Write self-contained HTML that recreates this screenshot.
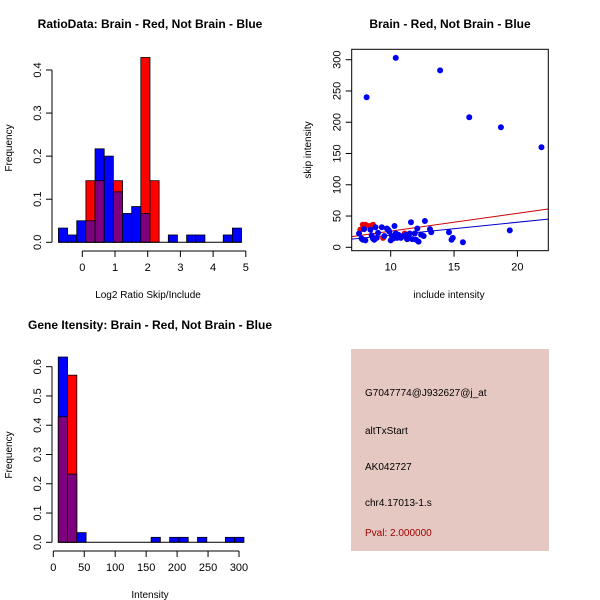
<!DOCTYPE html>
<html><head><meta charset="utf-8"><style>
html,body{margin:0;padding:0;background:#fff;}
svg{display:block;font-family:"Liberation Sans",sans-serif;}
</style></head><body>
<svg id="c" width="600" height="600" xmlns="http://www.w3.org/2000/svg">
<rect width="600" height="600" fill="#fff"/>
<text x="150" y="28" font-size="12" font-weight="bold" text-anchor="middle">RatioData: Brain - Red, Not Brain - Blue</text>
<text x="148" y="298" font-size="10" text-anchor="middle">Log2 Ratio Skip/Include</text>
<text transform="translate(12,148) rotate(-90)" font-size="10" text-anchor="middle">Frequency</text>
<text x="450" y="28" font-size="12" font-weight="bold" text-anchor="middle">Brain - Red, Not Brain - Blue</text>
<text x="449" y="298" font-size="10" text-anchor="middle">include intensity</text>
<text transform="translate(311,150) rotate(-90)" font-size="10" text-anchor="middle">skip intensity</text>
<text x="150" y="329" font-size="12" font-weight="bold" text-anchor="middle">Gene Itensity: Brain - Red, Not Brain - Blue</text>
<text x="150" y="598" font-size="10" text-anchor="middle">Intensity</text>
<text transform="translate(12,455) rotate(-90)" font-size="10" text-anchor="middle">Frequency</text>
<rect x="351" y="349" width="198" height="202" fill="#E6C8C2"/>
<text x="365" y="396" font-size="10">G7047774@J932627@j_at</text>
<text x="365" y="434" font-size="10">altTxStart</text>
<text x="365" y="470" font-size="10">AK042727</text>
<text x="365" y="506" font-size="10">chr4.17013-1.s</text>
<text x="365" y="536" font-size="10" fill="#A00000">Pval: 2.000000</text>
</svg>
<script>
const NS="http://www.w3.org/2000/svg";
const svg=document.getElementById('c');
function mk(t,a,p){const e=document.createElementNS(NS,t);for(const k in a)e.setAttribute(k,a[k]);(p||svg).appendChild(e);return e;}

// ---- Chart 1 data ----
const ratioBinStart=-0.73, ratioBinWidth=0.28;
const ratioBlue=[0.033,0.017,0.05,0.05,0.217,0.2,0.117,0.067,0.083,0.067,0,0,0.017,0,0.017,0.017,0,0,0.017,0.033];
const ratioRed=[0,0,0,0.143,0.143,0,0.143,0,0,0.429,0.143,0,0,0,0,0,0,0,0,0];
const ratioXTicks=[0,1,2,3,4,5];
const ratioYTicks=[0,0.1,0.2,0.3,0.4];

// ---- Chart 3 data ----
const intBinStart=8, intBinWidth=15;
const intBlue=[0.633,0.233,0.033,0,0,0,0,0,0,0,0.017,0,0.017,0.017,0,0.017,0,0,0.017,0.017];
const intRed=[0.429,0.571,0,0,0,0,0,0,0,0,0,0,0,0,0,0,0,0,0,0];
const intXTicks=[0,50,100,150,200,250,300];
const intYTicks=[0,0.1,0.2,0.3,0.4,0.5,0.6];

// ---- Chart 2 data ----
const blueX=[8.1,10.4,13.9,16.2,18.7,21.9,19.4,15.7,14.6,14.8,14.9,12.7,11.6,10.3,13.1,13.2,12.1,7.5,7.7,7.8,7.9,8.0,8.4,8.6,8.7,8.8,9.0,9.3,9.5,9.7,9.9,10.0,10.1,10.2,10.4,10.5,10.6,10.7,10.8,11.0,11.2,11.4,11.5,11.7,11.9,12.0,12.2,12.4,12.6,8.5,8.9,9.8,10.9,11.3];
const blueY=[240,303,283,208,192,160,27,8,24,12,15,42,40,34,29,24,30,22,14,12,29,11,28,14,12,32,23,32,18,30,25,11,18,14,22,15,20,18,15,18,20,16,22,13,22,12,9,20,18,19,15,28,17,13];
const redX=[7.8,8.0,8.3,8.6,7.6,9.4,11.1,11.3];
const redY=[36,36,34,36,28,15,22,13];
const redFit=[-2.7,2.85];
const blueFit=[-1.3,2.07];
const scXTicks=[10,15,20];
const scYTicks=[0,50,100,150,200,250,300];

function hist(g,name,x0px,xScale,binStart,binW,blue,red,y0,yScale){
  for(let i=0;i<blue.length;i++){
    const xa=xScale(binStart+i*binW), xb=xScale(binStart+(i+1)*binW);
    const b=blue[i], r=red[i];
    const hi=Math.max(b,r), lo=Math.min(b,r);
    if(hi>0){
      const e=mk('rect',{x:xa,y:yScale(hi),width:xb-xa,height:y0-yScale(hi),fill:b>=r?'#0000FF':'#FF0000',stroke:'#000','stroke-width':0.8},g);
      
      
    }
    if(lo>0){
      const e=mk('rect',{x:xa,y:yScale(lo),width:xb-xa,height:y0-yScale(lo),fill:'#7F007F',stroke:'#000','stroke-width':0.8},g);
      
      
    }
  }
}
function axes(xt,xs,xy,yt,ys,yx,fmtY){
  mk('line',{x1:xs(xt[0]),x2:xs(xt[xt.length-1]),y1:xy,y2:xy,stroke:'#000'});
  xt.forEach(v=>{mk('line',{x1:xs(v),x2:xs(v),y1:xy,y2:xy+6,stroke:'#000'});
    const t=mk('text',{x:xs(v),y:xy+20,'font-size':11,'text-anchor':'middle'});t.textContent=v;
    });
  mk('line',{x1:yx,x2:yx,y1:ys(yt[0]),y2:ys(yt[yt.length-1]),stroke:'#000'});
  yt.forEach(v=>{mk('line',{x1:yx-6,x2:yx,y1:ys(v),y2:ys(v),stroke:'#000'});
    const t=mk('text',{transform:`translate(${yx-11},${ys(v)}) rotate(-90)`,'font-size':11,'text-anchor':'middle'});t.textContent=fmtY(v);
    });
}

// Chart 1
{const xs=v=>82.3+v*32.7, ys=v=>242.3-v*430.8;
 const g=mk('g',{});
 hist(g,'ratio',0,xs,ratioBinStart,ratioBinWidth,ratioBlue,ratioRed,ys(0),ys);
 mk('line',{x1:xs(ratioBinStart),x2:xs(ratioBinStart+ratioBlue.length*ratioBinWidth),y1:242.3,y2:242.3,stroke:'#000'});
 axes(ratioXTicks,xs,251,ratioYTicks,ys,52,v=>v.toFixed(1));}

// Chart 3
{const xs=v=>53.3+v*0.619, ys=v=>542.3-v*292.7;
 const g=mk('g',{});
 hist(g,'intensity',0,xs,intBinStart,intBinWidth,intBlue,intRed,ys(0),ys);
 mk('line',{x1:xs(intBinStart),x2:xs(intBinStart+intBlue.length*intBinWidth),y1:542.3,y2:542.3,stroke:'#000'});
 axes(intXTicks,xs,551,intYTicks,ys,52,v=>v.toFixed(1));}

// Chart 2
{const xs=v=>390.7+(v-10)*12.67, ys=v=>247.3-v*0.6253;
 const L=351.7,R=548.3,T=49.3,B=250.7;
 const g=mk('g',{});
 const clip=mk('clipPath',{id:'sc'});mk('rect',{x:L,y:T,width:R-L,height:B-T},clip);
 [[redFit,'#CC0000','red-fit-line'],[blueFit,'#0000CC','blue-fit-line']].forEach(([f,c,n])=>{
   const x1=(L-390.7)/12.67+10,x2=(R-390.7)/12.67+10;
   const e=mk('line',{x1:L,x2:R,y1:ys(f[0]+f[1]*x1),y2:ys(f[0]+f[1]*x2),stroke:c,'stroke-width':1,'clip-path':'url(#sc)'},g);
   });
 redX.forEach((x,i)=>{const e=mk('circle',{cx:xs(x),cy:ys(redY[i]),r:3,fill:'#EE0000'},g);
   });
 blueX.forEach((x,i)=>{const e=mk('circle',{cx:xs(x),cy:ys(blueY[i]),r:3,fill:'#0000EE'},g);
   });
 mk('rect',{x:L,y:T,width:R-L,height:B-T,fill:'none',stroke:'#000'});
 scXTicks.forEach(v=>{mk('line',{x1:xs(v),x2:xs(v),y1:B,y2:B+6,stroke:'#000'});
   const t=mk('text',{x:xs(v),y:B+20,'font-size':11,'text-anchor':'middle'});t.textContent=v;
   });
 scYTicks.forEach(v=>{mk('line',{x1:L-6,x2:L,y1:ys(v),y2:ys(v),stroke:'#000'});
   const t=mk('text',{transform:`translate(${L-11},${ys(v)}) rotate(-90)`,'font-size':11,'text-anchor':'middle'});t.textContent=v;
   });}
</script>
</body></html>
